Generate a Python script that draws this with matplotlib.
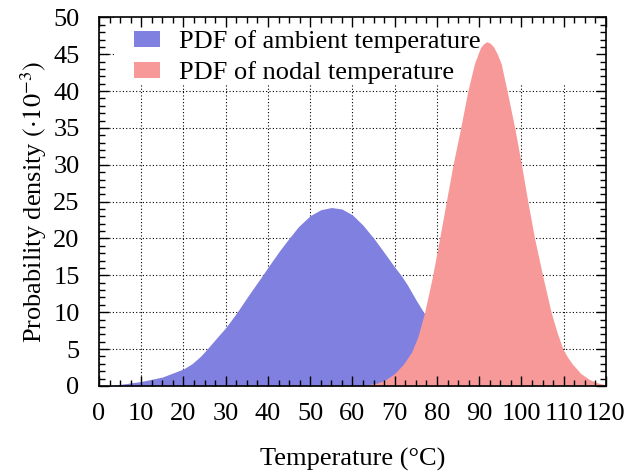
import matplotlib
matplotlib.use('Agg')
import matplotlib.pyplot as plt
from matplotlib.patches import Rectangle
from matplotlib.ticker import MultipleLocator

# values, density is in units of 1e-3
ambient_temp = [2, 5, 10, 15, 20, 22, 24, 25.6, 28, 30, 32.7, 35.4, 38.7, 40, 42.7, 44.7, 47.2, 50, 52.5,
                55, 57.5, 60, 62.5, 65.2, 67.5, 70, 71.5, 73, 75, 76.6, 80, 85, 90, 95, 100, 110, 120]
ambient_pdf = [0, 0.2, 0.6, 1.2, 2.3, 3.0, 4.0, 5.0, 6.6, 7.9, 10, 12.3, 15, 16.1, 18.3, 19.8, 21.6, 23.1, 23.9,
               24.2, 24.0, 23.2, 21.8, 19.9, 18.1, 16.1, 15, 13.7, 11.7, 10.2, 7.3, 3.8, 1.6, 0.6, 0.2, 0, 0]

nodal_temp = [60, 63, 66, 68, 70, 72, 74, 75.5, 77, 78.8, 80.5, 82.2, 83.8, 85.6, 87.3, 88.9, 90.3, 91.0,
              91.8, 92.6, 93.4, 94.3, 95.2, 96.6, 98.4, 100, 101.5, 103.1, 105, 107, 108.4, 109.8, 110.9,
              112, 114, 116, 118, 120]
nodal_pdf = [0, 0.1, 0.4, 0.9, 1.7, 2.9, 4.6, 6.7, 9.8, 14.5, 19.6, 25, 30, 35, 40, 43.8, 45.9, 46.4,
             46.7, 46.5, 46.0, 45.0, 43.7, 40, 35, 30, 25, 20, 15, 10, 7.3, 5, 3.9,
             3.0, 1.7, 0.9, 0.4, 0.15]

labels = ['PDF of ambient temperature', 'PDF of nodal temperature']
colors = ['#8080e0', '#f79999']

plt.rcParams['font.family'] = ['Liberation Serif', 'DejaVu Serif']
plt.rcParams['mathtext.fontset'] = 'stix'
FONT_SIZE = 19


def setup_limits(ax):
    ax.set_xlim(0, 120)
    ax.set_ylim(0, 50)
    ax.xaxis.set_major_locator(MultipleLocator(10))
    ax.yaxis.set_major_locator(MultipleLocator(5))


def main():
    fig = plt.figure(figsize=(6.42, 4.74), dpi=100)
    rect = [0.1542, 0.1859, 0.7897, 0.7774]

    # grid lives on its own axes underneath so the white key box can hide it
    grid_ax = fig.add_axes(rect)
    setup_limits(grid_ax)
    grid_ax.grid(True, color='black', linestyle=(0, (1, 2)), linewidth=0.8)
    grid_ax.tick_params(length=0, labelbottom=False, labelleft=False)
    for s in grid_ax.spines.values():
        s.set_visible(False)
    grid_ax.add_patch(Rectangle((4, 40.9), 116, 9.1, facecolor='white', edgecolor='none', zorder=3))

    ax = fig.add_axes(rect)
    ax.set_zorder(1)
    ax.patch.set_alpha(0)
    setup_limits(ax)
    ax.xaxis.set_minor_locator(MultipleLocator(2.5))
    ax.yaxis.set_minor_locator(MultipleLocator(1))

    ax.fill_between(ambient_temp, ambient_pdf, color=colors[0], lw=0, label=labels[0])
    ax.fill_between(nodal_temp, nodal_pdf, color=colors[1], lw=0, label=labels[1])

    ax.tick_params(which='both', direction='in', top=True, right=True, width=1, labelsize=FONT_SIZE)
    ax.tick_params(which='major', length=7)
    ax.tick_params(which='minor', length=4)
    ax.tick_params(axis='x', pad=12)
    ax.tick_params(axis='y', pad=14)
    for s in ax.spines.values():
        s.set_linewidth(1.2)

    ax.set_xlabel('Temperature (°C)', fontsize=FONT_SIZE, labelpad=17)
    ax.set_ylabel(r'Probability density $(\cdot 10^{-3})$', fontsize=FONT_SIZE, labelpad=3)

    ax.legend(loc='upper left', bbox_to_anchor=(0.069, 0.965), frameon=False, fontsize=FONT_SIZE,
              borderpad=0, borderaxespad=0, handlelength=1.0, handleheight=0.55, handletextpad=0.7,
              labelspacing=0.3)

    fig.savefig('out.png', dpi=100)


if __name__ == '__main__':
    main()
